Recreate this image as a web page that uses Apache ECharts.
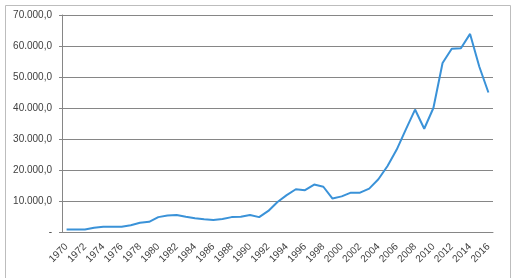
<!DOCTYPE html>
<html><head><meta charset="utf-8">
<script src="https://cdn.jsdelivr.net/npm/echarts@6/dist/echarts.min.js"></script>
<style>html,body{margin:0;padding:0;background:#fff}#c{width:513px;height:278px}</style>
</head><body><div id="c"></div>
<script>
const years = [];
for (let y = 1970; y <= 2016; y++) years.push(String(y));
const values = [800, 800, 800, 1400, 1700, 1700, 1700, 2200, 3000, 3300,
  4800, 5300, 5500, 4900, 4400, 4100, 3900, 4200, 4800, 4900,
  5500, 4800, 6800, 9700, 11900, 13800, 13500, 15300, 14600, 10800,
  11500, 12700, 12700, 14000, 17000, 21300, 26600, 33100, 39500, 33300,
  40000, 54500, 59100, 59300, 63900, 53400, 45000];
const yMax = 70000, yStep = 10000;

function fmt(v) {
  if (v === 0) return '-';
  return v.toString().replace(/\B(?=(\d{3})+(?!\d))/g, '.') + ',0';
}

const chart = echarts.init(document.getElementById('c'));
chart.setOption({
  animation: false,
  backgroundColor: '#fff',
  graphic: [{
    type: 'rect', left: 3, top: 3, shape: { width: 505, height: 300 },
    style: { fill: 'none', stroke: '#bdbdbd', lineWidth: 1 }
  }],
  grid: { left: 62, right: 20, top: 15, bottom: 46, containLabel: false },
  xAxis: {
    type: 'category', data: years, boundaryGap: true,
    axisLine: { lineStyle: { color: '#868686', width: 1 } },
    axisTick: { interval: 0, length: 4, lineStyle: { color: '#868686' } },
    axisLabel: { interval: 1, rotate: 45, fontSize: 10, color: '#404040',
      fontFamily: 'Liberation Sans', margin: 13 },
    splitLine: { show: false }
  },
  yAxis: {
    type: 'value', min: 0, max: yMax, interval: yStep,
    axisLine: { show: true, lineStyle: { color: '#868686', width: 1 } },
    axisTick: { show: true, length: 3, lineStyle: { color: '#868686' } },
    axisLabel: { formatter: fmt, fontSize: 10, color: '#404040',
      fontFamily: 'Liberation Sans', margin: 10 },
    splitLine: { lineStyle: { color: '#868686', width: 1 } }
  },
  series: [{
    type: 'line', data: values, symbol: 'none', smooth: false,
    lineStyle: { color: '#3a92d8', width: 2 }
  }]
});
</script></body></html>
